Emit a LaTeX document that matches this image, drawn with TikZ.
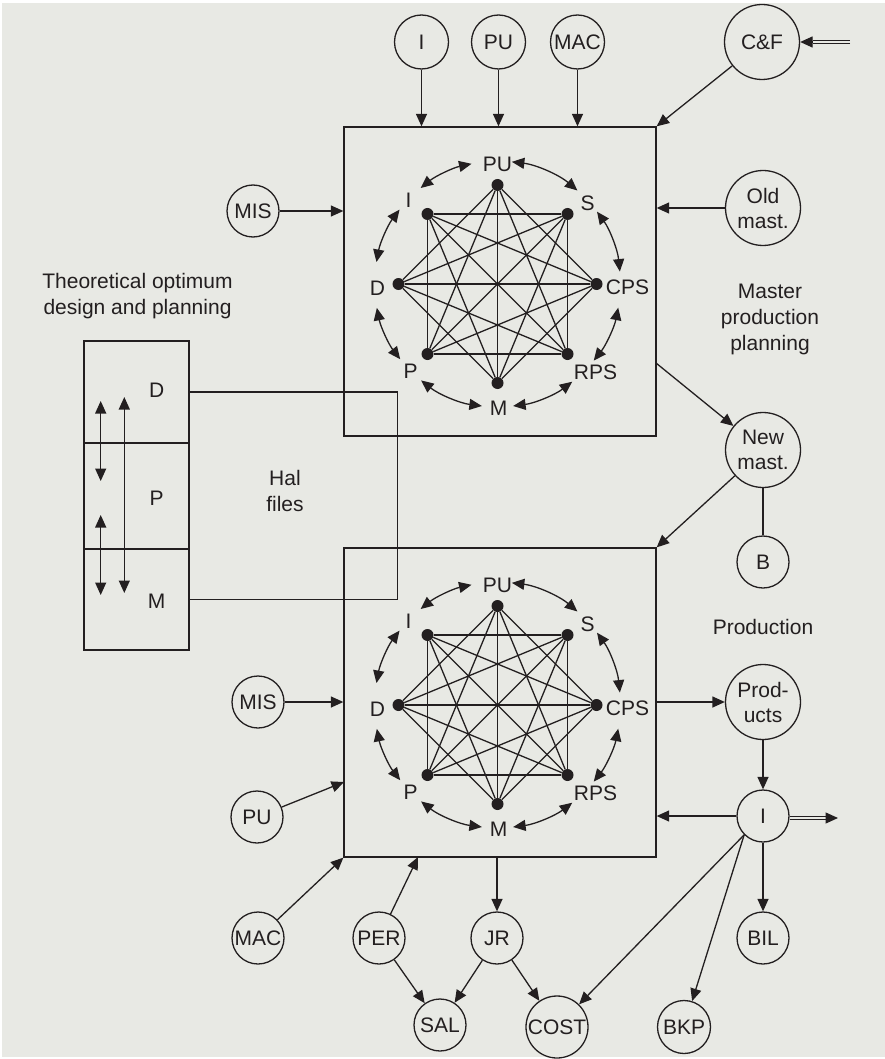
\documentclass[tikz,border=0pt]{standalone}
\usepackage{fontspec}
\setmainfont{Liberation Sans}
\usetikzlibrary{arrows.meta,calc}
\definecolor{bg}{RGB}{232,233,228}
\definecolor{ink}{RGB}{35,31,32}

% Fully meshed planning graph: dots, chords, labels and curved double arrows.
% #1 is the name prefix; the centre is the coordinate named #1c.
\newcommand\meshgraph[1]{%
  \foreach \n/\a in {PU/-90,S/-45,CPS/0,RPS/45,M/90,P/135,D/180,I/225}
    \node[dot] (#1\n) at ($(#1c)+(\a:99)$) {};
  \foreach \u/\v in {PU/CPS,PU/RPS,PU/M,PU/P,PU/D,S/RPS,S/M,S/P,S/D,S/I,
                     CPS/M,CPS/P,CPS/D,CPS/I,RPS/P,RPS/D,RPS/I,M/D,M/I,P/I}
    \draw[line] (#1\u) -- (#1\v);
  \foreach \n/\dx/\dy in {PU/0/-120,I/-89/-84,S/90/-81,CPS/130/3,RPS/98/88,M/1/124,P/-87/87,D/-120/4}
    \node[lbl] (#1l\n) at ($(#1c)+(\dx,\dy)$) {\n};
  \foreach \s/\e in {-128.7/-102.2,-83.3/-49.5,-36/-5.8,11.1/38.5,52.6/82.7,97.3/128.4,142.3/168.8,190.3/217.2}
    \draw[darr] ($(#1c)+(\s:123)$) arc[start angle=\s, end angle=\e, radius=123];
}

\begin{document}
\begin{tikzpicture}[x=1pt,y=-1pt,
  every node/.style={text=ink, font=\fontsize{21}{25}\selectfont},
  line/.style={draw=ink, line width=1.3pt},
  tip/.tip={Triangle[length=12.5pt,width=11pt]},
  arr/.style={line, -tip},
  darr/.style={line, tip-tip},
  dbl/.style={draw=ink, line width=1.1pt, double=bg, double distance=2.6pt},
  circ/.style={circle, draw=ink, line width=1.3pt, inner sep=0pt, minimum size=52pt, align=center},
  big/.style={circ, minimum size=75pt},
  dot/.style={circle, fill=ink, inner sep=0pt, minimum size=12pt},
  lbl/.style={inner sep=1pt},
  frame/.style={line, inner sep=0pt, minimum width=312pt, minimum height=309pt},
  cell/.style={line, inner sep=0pt, minimum width=105pt},
  txt/.style={align=center, font=\fontsize{21}{26}\selectfont}]

% page
\fill[white] (0,0) rectangle (885,1059);
\fill[bg] (2,3) rectangle (885,1057);

% ---------------- master production planning ----------------
\node[frame] (box1) at (500,281.5) {};
\coordinate (ac) at (497.5,284);
\meshgraph{a}

\node[circ, minimum size=54pt] (tI)   at (421.5,42) {I};
\node[circ, minimum size=54pt] (tPU)  at (498.5,42) {PU};
\node[circ, minimum size=54pt] (tMAC) at (577.5,42) {MAC};
\node[big] (cf)  at (762,42)  {C\&F};
\node[circ] (tMIS) at (253,211) {MIS};
\node[big] (old) at (763,208) {Old\\mast.};

\draw[arr] (tI) -- (tI |- box1.north);
\draw[arr] (tPU) -- (tPU |- box1.north);
\draw[arr] (tMAC) -- (tMAC |- box1.north);
\draw[arr] (cf) -- (box1.north east);
\coordinate (cfin) at (850,42);
\coordinate (cftip) at ($(cf.east)+(12.5,0)$);
\draw[dbl] (cfin) -- (cftip);
\draw[arr] (cftip) -- (cf.east);
\draw[arr] (tMIS) -- (tMIS -| box1.west);
\draw[arr] (old) -- (old -| box1.east);

\node[txt] (mpp) at (770,319) {Master\\production\\planning};

% ---------------- new master schedule ----------------
\node[big] (newm) at (763,450) {New\\mast.};
\node[circ] (bB) at (763,562) {B};
\coordinate (m1) at (656,363);
\draw[arr] (m1) -- (newm);
\draw[line] (newm) -- (bB);

% ---------------- production ----------------
\node[frame] (box2) at (500,702.5) {};
\coordinate (bc) at (497.5,705);
\meshgraph{b}

\node[txt] (prodlbl) at (763,627) {Production};
\draw[arr] (newm) -- (box2.north east);

\node[big] (prod) at (763,702) {Prod-\\ucts};
\node[circ] (bI)   at (763,816) {I};
\node[circ] (bil)  at (763,938) {BIL};
\node[circ, minimum size=53pt] (bkp) at (684,1027) {BKP};
\node[circ, minimum size=62pt] (cost) at (557,1027) {COST};
\node[circ] (sal)  at (440,1025) {SAL};
\node[circ] (jr)   at (497,938) {JR};
\node[circ] (per)  at (379,938) {PER};
\node[circ] (bMAC) at (258,938) {MAC};
\node[circ] (bPU)  at (257,817) {PU};
\node[circ] (bMIS) at (258,702) {MIS};

\draw[arr] (prod -| box2.east) -- (prod);
\draw[arr] (prod) -- (bI);
\draw[arr] (bI) -- (bI -| box2.east);
\coordinate (iout) at (838,818);
\coordinate (itip) at ($(iout)+(-12.5,0)$);
\draw[dbl] (bI.east |- iout) -- (itip);
\draw[arr] (itip) -- (iout);
\draw[arr] (bI) -- (bil);
\draw[arr] (bI.225) -- (bkp);
\draw[arr] (bI.225) -- (cost);

\draw[arr] (bMIS) -- (bMIS -| box2.west);
\coordinate (puin) at (344,782);
\draw[arr] (bPU) -- (puin);
\draw[arr] (bMAC) -- (box2.south west);
\coordinate (perin) at (418,857);
\draw[arr] (per) -- (perin);
\draw[arr] (jr |- box2.south) -- (jr);
\draw[arr] (per) -- (sal);
\draw[arr] (jr) -- (sal);
\draw[arr] (jr) -- (cost);

% ---------------- theoretical optimum column ----------------
\node[txt] (theo) at (137.5,296) {Theoretical optimum\\design and planning};
\node[cell, minimum height=102pt] (rowD) at (136.5,392) {};
\node[cell, minimum height=106pt] (rowP) at (136.5,496) {};
\node[cell, minimum height=101pt] (rowM) at (136.5,599.5) {};
\node[lbl] (lD) at (156.7,390) {D};
\node[lbl] (lP) at (156.7,498) {P};
\node[lbl] (lM) at (156.7,601) {M};

\coordinate (s1a) at (100.7,401);  \coordinate (s1b) at (100.7,481);
\coordinate (s2a) at (100.7,515);  \coordinate (s2b) at (100.7,595);
\coordinate (la)  at (124.3,397);  \coordinate (lb)  at (124.3,593);
\draw[darr] (s1a) -- (s1b);
\draw[darr] (s2a) -- (s2b);
\draw[darr] (la) -- (lb);

% Hal files bracket
\draw[line] (rowD.east) -- ++(208,0) |- (rowM.east);
\node[txt] (hal) at (285,491) {Hal\\files};

\end{tikzpicture}
\end{document}
